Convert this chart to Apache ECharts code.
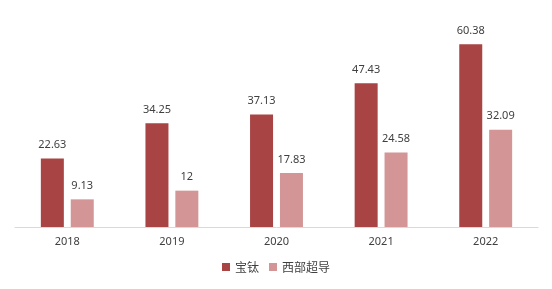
<!DOCTYPE html>
<html><head><meta charset="utf-8">
<script src="https://cdn.jsdelivr.net/npm/echarts@6/dist/echarts.min.js"></script>
<style>html,body{margin:0;padding:0;background:#fff}#c{width:552px;height:289px}</style>
</head><body><div id="c"></div>
<script>
const categories = ['2018','2019','2020','2021','2022'];
const seriesNames = ['宝钛','西部超导'];
const baoti = [22.63, 34.25, 37.13, 47.43, 60.38];
const xibu = [9.13, 12, 17.83, 24.58, 32.09];

const chart = echarts.init(document.getElementById('c'));
const lbl = {show:true, position:'top', distance:8, color:'#404040', fontSize:11, fontFamily:'Noto Sans'};
chart.setOption({
  animation:false,
  grid:{left:15, right:14, top:15, bottom:62},
  legend:{bottom:11, left:'center', itemWidth:8, itemHeight:8, itemGap:10, icon:'rect',
    textStyle:{fontSize:12, color:'#404040', fontFamily:'Noto Sans CJK SC'}, data:seriesNames},
  xAxis:{type:'category', data:categories,
    axisLine:{lineStyle:{color:'#d9d9d9'}}, axisTick:{show:false},
    axisLabel:{color:'#404040', fontSize:11, margin:9, fontFamily:'Noto Sans'}},
  yAxis:{type:'value', min:0, max:70, show:false},
  series:[
    {name:seriesNames[0], type:'bar', data:baoti, barWidth:23, barGap:'30%', itemStyle:{color:'#A94444'}, label:lbl},
    {name:seriesNames[1], type:'bar', data:xibu, barWidth:23, itemStyle:{color:'#D39595'}, label:lbl}
  ]
});
</script></body></html>
